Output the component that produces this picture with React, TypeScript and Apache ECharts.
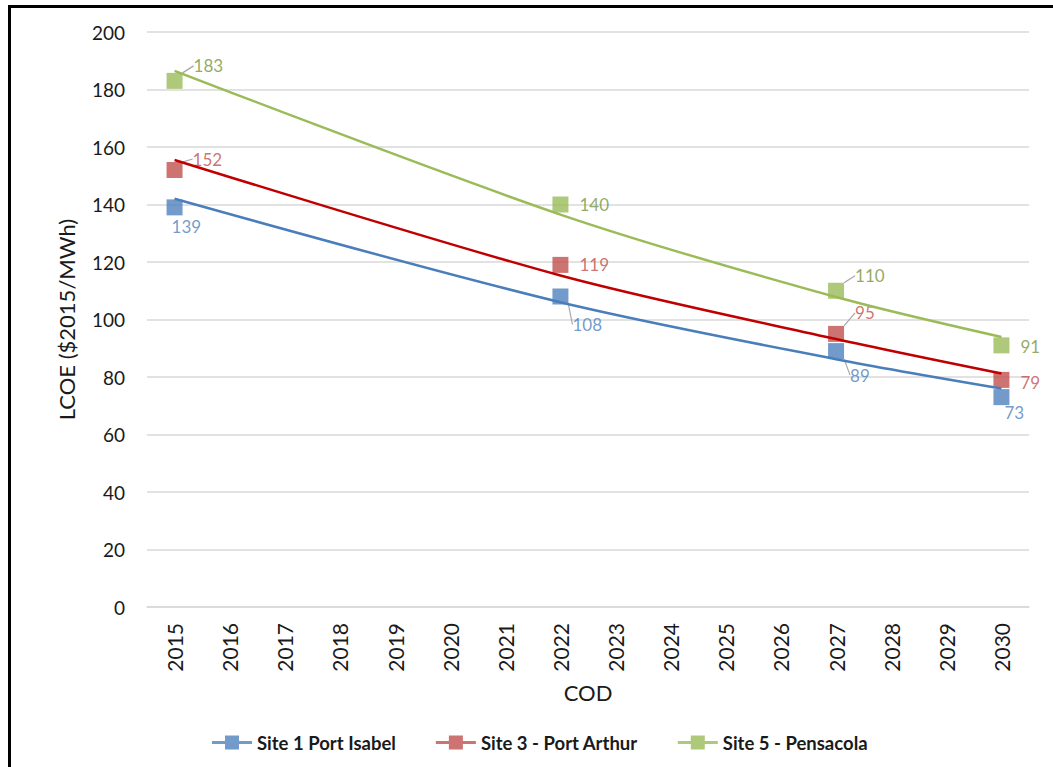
import React, { useEffect, useRef } from "react";
import * as echarts from "echarts";

// Commercial operation years shown on the category axis
const years = [
  "2015", "2016", "2017", "2018", "2019", "2020", "2021", "2022",
  "2023", "2024", "2025", "2026", "2027", "2028", "2029", "2030",
];

// Years with an LCOE estimate
const codYears = ["2015", "2022", "2027", "2030"];

// LCOE estimates ($2015/MWh)
const portIsabel = [139, 108, 89, 73];
const portArthur = [152, 119, 95, 79];
const pensacola = [183, 140, 110, 91];

// Trend curves through each site's estimates
const portIsabelTrend = [142, 106, 86.2, 76];
const portArthurTrend = [155.5, 115.3, 93.2, 81.2];
const pensacolaTrend = [186.5, 136.5, 107.8, 93.9];

const yTicks = { min: 0, max: 200, interval: 20 };

// Label placement per point: [dx, dy, leader line]
const isabelLabels: [number, number, boolean][] = [
  [-22, 19, false], [-7, 28, true], [-5, 24, true], [-16, 15, false],
];
const arthurLabels: [number, number, boolean][] = [
  [-1, -11, true], [0, 0, false], [0, -21, true], [0, 3, false],
];
const pensacolaLabels: [number, number, boolean][] = [
  [0, -15, true], [0, 0, false], [0, -15, true], [0, 1, false],
];

const BLUE = "#4F81BD";
const RED = "#C0504D";
const GREEN = "#9BBB59";

const legendIcon =
  "path://M0,5.5H13V0H27V5.5H40V8.5H27V14H13V8.5H0Z";

function scatter(
  name: string,
  values: number[],
  color: string,
  labelColor: string,
  placement: [number, number, boolean][]
) {
  return {
    name,
    type: "scatter",
    symbol: "rect",
    symbolSize: 16,
    z: 2,
    itemStyle: { color },
    data: values.map((v, i) => ({
      value: [codYears[i], v],
      labelLine: { show: placement[i][2] },
    })),
    label: {
      show: true,
      position: "right",
      distance: 11,
      color: labelColor,
      fontSize: 17,
      fontFamily: "Lato",
      formatter: (p: any) => String(p.value[1]),
    },
    labelLine: {
      show: false,
      lineStyle: { color: "#A6A6A6", width: 1.2 },
    },
    labelLayout: (p: any) => ({
      dx: placement[p.dataIndex][0],
      dy: placement[p.dataIndex][1],
    }),
  };
}

function trend(values: number[], color: string) {
  return {
    type: "line",
    smooth: 0.3,
    symbol: "none",
    silent: true,
    z: 3,
    legendHoverLink: false,
    lineStyle: { color, width: 2.5 },
    data: values.map((v, i) => [codYears[i], v]),
  };
}

export default function App() {
  const ref = useRef<HTMLDivElement>(null);

  useEffect(() => {
    if (!ref.current) return;
    const chart = echarts.init(ref.current, null, { renderer: "svg" });
    chart.setOption({
      animation: false,
      backgroundColor: "#ffffff",
      grid: { left: 147, right: 24, top: 32, bottom: 160 },
      legend: {
        left: 207,
        top: 728,
        itemWidth: 40,
        itemHeight: 14,
        itemGap: 40,
        textStyle: {
          fontFamily: "Lato",
          fontWeight: "bold",
          fontSize: 18.5,
          color: "#1a1a1a",
        },
        data: [
          { name: "Site 1 Port Isabel", icon: legendIcon, itemStyle: { color: BLUE } },
          { name: "Site 3 - Port Arthur", icon: legendIcon, itemStyle: { color: RED } },
          { name: "Site 5 - Pensacola", icon: legendIcon, itemStyle: { color: GREEN } },
        ],
      },
      xAxis: {
        type: "category",
        data: years,
        boundaryGap: true,
        name: "COD",
        nameLocation: "middle",
        nameGap: 74,
        nameTextStyle: { fontFamily: "Lato", fontSize: 22, color: "#1a1a1a" },
        axisLine: { show: true, lineStyle: { color: "#D9D9D9", width: 1.5 } },
        axisTick: { show: false },
        axisLabel: {
          rotate: 90,
          margin: 16,
          fontFamily: "Lato",
          fontSize: 21,
          color: "#1a1a1a",
        },
        splitLine: { show: false },
      },
      yAxis: {
        type: "value",
        min: yTicks.min,
        max: yTicks.max,
        interval: yTicks.interval,
        name: "LCOE ($2015/MWh)",
        nameLocation: "middle",
        nameGap: 70,
        nameTextStyle: { fontFamily: "Lato", fontSize: 22, color: "#1a1a1a" },
        axisLine: { show: false },
        axisTick: { show: false },
        axisLabel: {
          margin: 22,
          fontFamily: "Lato",
          fontSize: 19,
          color: "#1a1a1a",
        },
        splitLine: { lineStyle: { color: "#D9D9D9", width: 1.5 } },
      },
      series: [
        scatter("Site 1 Port Isabel", portIsabel, BLUE, BLUE, isabelLabels),
        scatter("Site 3 - Port Arthur", portArthur, RED, RED, arthurLabels),
        scatter("Site 5 - Pensacola", pensacola, GREEN, "#77933C", pensacolaLabels),
        trend(portIsabelTrend, "#4A7EBB"),
        trend(portArthurTrend, "#C00000"),
        trend(pensacolaTrend, GREEN),
      ],
    });
    return () => chart.dispose();
  }, []);

  return (
    <div
      style={{
        position: "absolute",
        left: 0,
        top: 0,
        width: 1053,
        height: 767,
        overflow: "hidden",
        background: "#ffffff",
      }}
    >
      <div ref={ref} style={{ position: "absolute", left: 0, top: 0, width: 1053, height: 767 }} />
      <div
        style={{
          position: "absolute",
          left: 8,
          top: 5,
          width: 1045,
          height: 762,
          borderLeft: "3px solid #000",
          borderTop: "3px solid #000",
          boxSizing: "border-box",
          pointerEvents: "none",
        }}
      />
    </div>
  );
}
